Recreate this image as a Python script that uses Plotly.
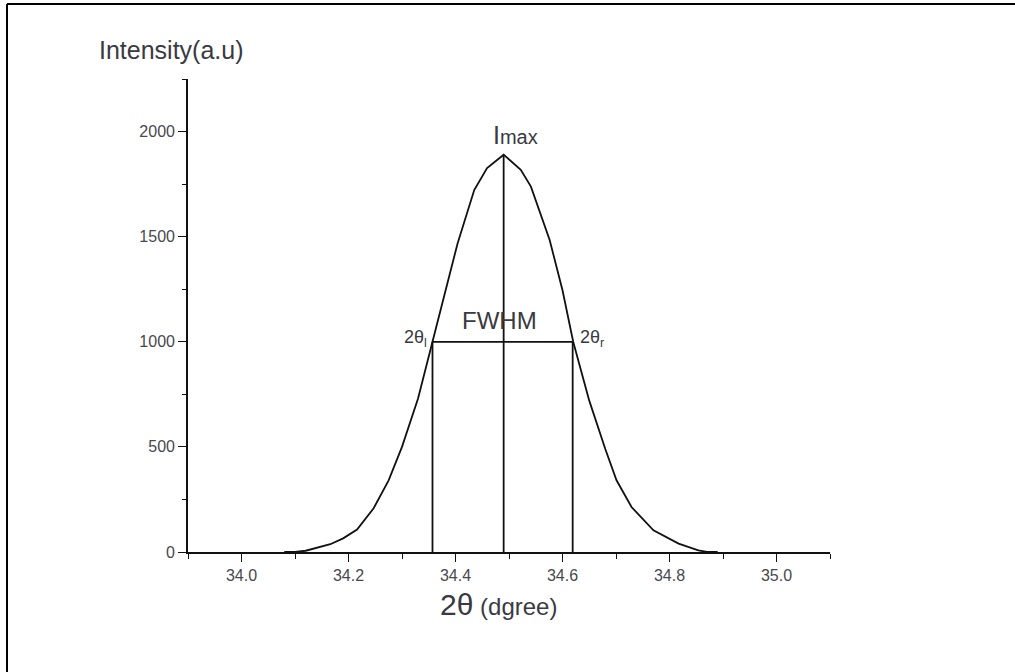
import plotly.graph_objects as go

# ---- data ----
two_theta = [34.08, 34.10, 34.12, 34.14, 34.166, 34.19, 34.216, 34.247, 34.275, 34.30,
             34.33, 34.357, 34.38, 34.404, 34.435, 34.459, 34.49, 34.522, 34.541, 34.576,
             34.60, 34.62, 34.65, 34.68, 34.701, 34.729, 34.77, 34.817, 34.854, 34.87, 34.89]
intensity = [0, 0, 6, 18, 37, 65, 107, 208, 341, 500,
             730, 1000, 1230, 1469, 1722, 1826, 1890, 1818, 1738, 1484,
             1245, 1000, 720, 490, 341, 214, 103, 40, 8, 0, 0]

peak_x = 34.49
peak_y = 1890
half_max = 1000
theta_left = 34.357
theta_right = 34.619

x_ticks = [34.0, 34.2, 34.4, 34.6, 34.8, 35.0]
y_ticks = [0, 500, 1000, 1500, 2000]

FONT = "Liberation Sans, Arial, sans-serif"
LINE = "#111111"
TXT = "#3a3a42"
TICKTXT = "#48484f"

fig = go.Figure()

# profile curve
fig.add_trace(go.Scatter(x=two_theta, y=intensity, mode="lines",
                         line=dict(color=LINE, width=1.8), showlegend=False, hoverinfo="skip"))
# peak vertical line
fig.add_trace(go.Scatter(x=[peak_x, peak_x], y=[0, peak_y], mode="lines",
                         line=dict(color=LINE, width=1.8), showlegend=False, hoverinfo="skip"))
# FWHM vertical lines and horizontal bar
fig.add_trace(go.Scatter(x=[theta_left, theta_left, None, theta_right, theta_right],
                         y=[0, half_max, None, 0, half_max], mode="lines",
                         line=dict(color=LINE, width=1.8), showlegend=False, hoverinfo="skip"))
fig.add_trace(go.Scatter(x=[theta_left, theta_right], y=[half_max, half_max], mode="lines",
                         line=dict(color=LINE, width=1.8), showlegend=False, hoverinfo="skip"))

W, H = 1015, 672
L, R, T, B = 188, 185, 79, 120
pw, ph = W - L - R, H - T - B

def px(xp):
    return (xp - L) / pw

def py(yp):
    return (H - B - yp) / ph

fig.update_layout(
    width=W, height=H,
    margin=dict(l=L, r=R, t=T, b=B, pad=0),
    paper_bgcolor="white", plot_bgcolor="white",
    font=dict(family=FONT, color=TXT, size=16),
    xaxis=dict(range=[33.9, 35.1], tickvals=x_ticks, ticktext=[f"{v:.1f}" for v in x_ticks],
               showline=True, linecolor=LINE, linewidth=1.7, mirror=False,
               ticks="outside", ticklen=8, tickwidth=1.4, tickcolor=LINE,
               minor=dict(dtick=0.1, tick0=33.9, ticks="outside", ticklen=5, tickwidth=1.4, tickcolor=LINE),
               showgrid=False, zeroline=False, tickfont=dict(size=16, color=TICKTXT)),
    yaxis=dict(range=[0, 2250], tickvals=y_ticks,
               showline=True, linecolor=LINE, linewidth=1.7, mirror=False,
               ticks="outside", ticklen=8, tickwidth=1.4, tickcolor=LINE,
               minor=dict(dtick=250, tick0=0, ticks="outside", ticklen=4, tickwidth=1.4, tickcolor=LINE),
               showgrid=False, zeroline=False, tickfont=dict(size=16, color=TICKTXT)),
)

ann = []
ann.append(dict(xref="paper", yref="paper", x=px(171), y=py(50), text="Intensity(a.u)",
                showarrow=False, xanchor="center", yanchor="middle", font=dict(size=25, color=TXT)))
ann.append(dict(xref="paper", yref="paper", x=px(498), y=py(604),
                text="<span style='font-size:30px'>2θ</span> (dgree)",
                showarrow=False, xanchor="center", yanchor="middle", font=dict(size=24, color=TXT)))
ann.append(dict(xref="x", yref="y", x=peak_x, y=peak_y, xanchor="left", yanchor="bottom",
                xshift=-13, yshift=4,
                text="<span style='font-size:25px'>I</span><span style='font-size:20px'>max</span>",
                showarrow=False, font=dict(color=TXT)))
ann.append(dict(xref="x", yref="y", x=(theta_left + theta_right) / 2, y=half_max, xanchor="center",
                yanchor="bottom", xshift=-3, yshift=6, text="FWHM", showarrow=False,
                font=dict(size=24, color=TXT)))
ann.append(dict(xref="x", yref="y", x=theta_left, y=half_max, xanchor="right", yanchor="middle",
                xshift=-3, yshift=3, text="2θ<sub>l</sub>", showarrow=False, font=dict(size=18, color=TXT)))
ann.append(dict(xref="x", yref="y", x=theta_right, y=half_max, xanchor="left", yanchor="middle",
                xshift=5, yshift=3, text="2θ<sub>r</sub>", showarrow=False, font=dict(size=18, color=TXT)))
fig.update_layout(annotations=ann)

# outer frame (top and left edges)
fig.add_shape(type="line", xref="paper", yref="paper", x0=px(7), x1=px(1020), y0=py(4), y1=py(4),
              line=dict(color="black", width=2))
fig.add_shape(type="line", xref="paper", yref="paper", x0=px(7), x1=px(7), y0=py(4), y1=py(680),
              line=dict(color="black", width=2))

fig.write_html("out.html", config={"displayModeBar": False},
               post_script="document.body.style.margin='0px';")
